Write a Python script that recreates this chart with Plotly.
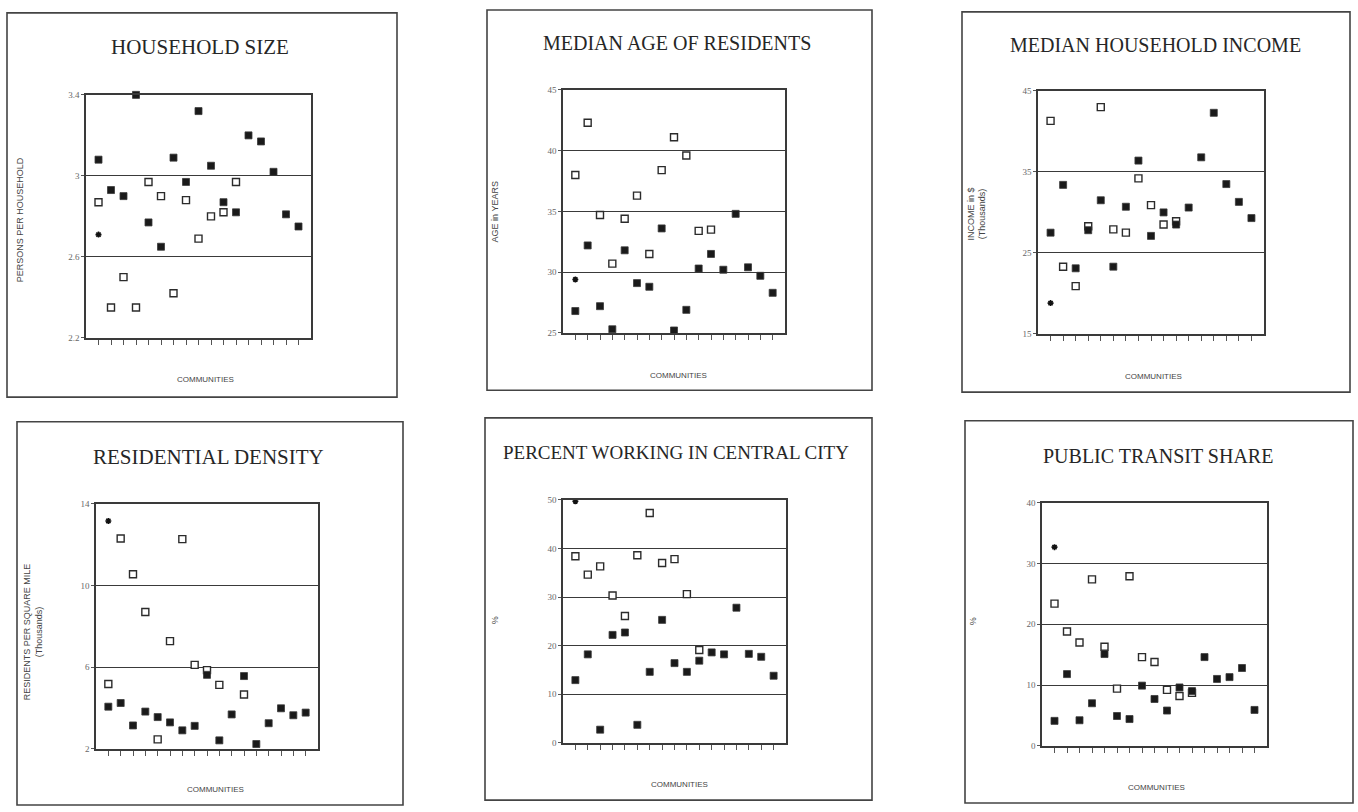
import plotly.graph_objects as go

# Community index on the horizontal axis (17 communities per panel)
communities = list(range(1, 18))

# --- Household size (persons per household) ---
household_filled = [3.08, 2.93, 2.90, 3.40, 2.77, 2.65, 3.09, 2.97, 3.32, 3.05,
                    2.87, 2.82, 3.20, 3.17, 3.02, 2.81, 2.75]
household_open = [2.87, 2.35, 2.50, 2.35, 2.97, 2.90, 2.42, 2.88, 2.69, 2.80,
                  2.82, 2.97, None, None, None, None, None]
household_city = 2.71

# --- Median age of residents (years) ---
age_filled = [26.8, 32.2, 27.2, 25.3, 31.8, 29.1, 28.8, 33.6, 25.2, 26.9,
              30.3, 31.5, 30.2, 34.8, 30.4, 29.7, 28.3]
age_open = [38.0, 42.3, 34.7, 30.7, 34.4, 36.3, 31.5, 38.4, 41.1, 39.6,
            33.4, 33.5, None, None, None, None, None]
age_city = 29.4

# --- Median household income ($ thousands) ---
income_filled = [27.5, 33.4, 23.1, 27.8, 31.5, 23.3, 30.7, 36.4, 27.1, 30.0,
                 28.5, 30.6, 36.8, 42.3, 33.5, 31.3, 29.3]
income_open = [41.3, 23.3, 20.9, 28.3, 43.0, 27.9, 27.5, 34.2, 30.9, 28.5,
               28.9, None, None, None, None, None, None]
income_city = 18.8

# --- Residential density (residents per sq. mile, thousands) ---
density_filled = [4.06, 4.24, 3.14, 3.82, 3.55, 3.29, 2.90, 3.12, 5.62, 2.41,
                  3.68, 5.56, 2.23, 3.25, 3.98, 3.64, 3.77]
density_open = [5.17, 12.30, 10.55, 8.70, 2.46, 7.27, 12.27, 6.11, 5.85, 5.13,
                None, 4.66, None, None, None, None, None]
density_city = 13.16

# --- Percent working in central city ---
working_filled = [12.9, 18.2, 2.7, 22.2, 22.7, 3.7, 14.6, 25.3, 16.4, 14.6,
                  16.9, 18.6, 18.2, 27.8, 18.3, 17.7, 13.8]
working_open = [38.4, 34.6, 36.3, 30.3, 26.1, 38.6, 47.3, 37.0, 37.8, 30.6,
                19.1, None, None, None, None, None, None]
working_city = 49.7

# --- Public transit share (%) ---
transit_filled = [4.1, 11.8, 4.2, 7.0, 15.1, 4.9, 4.4, 9.9, 7.7, 5.8,
                  9.6, 9.0, 14.6, 11.0, 11.3, 12.8, 5.9]
transit_open = [23.4, 18.8, 17.0, 27.4, 16.3, 9.4, 27.9, 14.6, 13.8, 9.2,
                8.2, 8.7, None, None, None, None, None]
transit_city = 32.7

# Titles and axis labels
panel_titles = ["HOUSEHOLD SIZE", "MEDIAN AGE OF RESIDENTS", "MEDIAN HOUSEHOLD INCOME",
                "RESIDENTIAL DENSITY", "PERCENT WORKING IN CENTRAL CITY", "PUBLIC TRANSIT SHARE"]
y_titles = ["PERSONS PER HOUSEHOLD", "AGE in YEARS", "INCOME in $<br>(Thousands)",
            "RESIDENTS PER SQUARE MILE<br>(Thousands)", "%", "%"]
x_title = "COMMUNITIES"

y_ticks = [[2.2, 2.6, 3.0, 3.4], [25, 30, 35, 40, 45], [15, 25, 35, 45],
           [2, 6, 10, 14], [0, 10, 20, 30, 40, 50], [0, 10, 20, 30, 40]]
y_tick_text = [["2.2", "2.6", "3", "3.4"], ["25", "30", "35", "40", "45"],
               ["15", "25", "35", "45"], ["2", "6", "10", "14"],
               ["0", "10", "20", "30", "40", "50"], ["0", "10", "20", "30", "40"]]

filled_series = [household_filled, age_filled, income_filled,
                 density_filled, working_filled, transit_filled]
open_series = [household_open, age_open, income_open,
               density_open, working_open, transit_open]
city_values = [household_city, age_city, income_city,
               density_city, working_city, transit_city]

# ---------------- layout geometry (pixels) ----------------
W, H = 1358, 812
plot_boxes = [(86, 91, 311, 337), (563, 86, 785, 332), (1038, 87, 1264, 333),
              (96, 505, 318, 753), (563, 501, 786, 747), (1042, 504, 1267, 750)]
frame_boxes = [(7, 8, 397, 397), (487, 5, 872, 390), (962, 7, 1350, 392),
               (17, 422, 403, 810), (485, 418, 872, 805), (965, 421, 1353, 808)]
title_pos = [(200, 43), (677, 38), (1155, 41), (208, 458), (676, 453), (1158, 457)]
title_size = [21, 20, 20, 21, 19, 20]
xtitle_pos = [(206, 379), (678, 375), (1153, 376), (215, 794), (679, 789), (1156, 792)]
ytitle_pos = [(20, 218), (495, 210), (977, 212), (33, 635), (495, 623), (973, 624)]


def px_x(x):
    return x / W


def px_y(y):
    return 1 - y / H


LINE = "#3a3a3a"
LABEL = "#666666"
SERIF = "Liberation Serif, Times New Roman, serif"
SANS = "Liberation Sans Narrow, Liberation Sans, Arial, sans-serif"

fig = go.Figure()
layout = dict(width=W, height=H, margin=dict(l=0, r=0, t=0, b=0),
              paper_bgcolor="white", plot_bgcolor="white", showlegend=False)
annotations = []
shapes = []

for i in range(6):
    k = "" if i == 0 else str(i + 1)
    xa, ya = "x" + k, "y" + k
    x0, y0, x1, y1 = plot_boxes[i]

    fig.add_trace(go.Scatter(
        x=communities, y=open_series[i], xaxis=xa, yaxis=ya, mode="markers",
        marker=dict(symbol="square", size=7, color="white",
                    line=dict(color="#2b2b2b", width=1.4)),
        cliponaxis=False, hoverinfo="skip"))
    fig.add_trace(go.Scatter(
        x=communities, y=filled_series[i], xaxis=xa, yaxis=ya, mode="markers",
        marker=dict(symbol="square", size=7, color="#1a1a1a",
                    line=dict(color="#3a3a3a", width=0.8)),
        cliponaxis=False, hoverinfo="skip"))
    fig.add_trace(go.Scatter(
        x=[communities[0]], y=[city_values[i]], xaxis=xa, yaxis=ya, mode="markers",
        marker=dict(symbol="asterisk-open", size=5, color="#111",
                    line=dict(color="#111", width=1.6)),
        cliponaxis=False, hoverinfo="skip"))

    ymin, ymax = y_ticks[i][0], y_ticks[i][-1]
    layout["xaxis" + k] = dict(
        domain=[px_x(x0), px_x(x1)], anchor=ya, range=[0, 18],
        tickvals=communities, ticks="outside", ticklen=5, tickwidth=1.2,
        tickcolor="#555", showticklabels=False, showline=True, mirror=True,
        linecolor=LINE, linewidth=1.6, showgrid=False, zeroline=False)
    layout["yaxis" + k] = dict(
        domain=[px_y(y1), px_y(y0)], anchor=xa, range=[ymin, ymax],
        tickvals=y_ticks[i], ticktext=y_tick_text[i], ticks="outside",
        ticklen=3, tickwidth=1, tickcolor="#555", showline=True, mirror=True,
        linecolor=LINE, linewidth=1.6, showgrid=True, gridcolor=LINE,
        gridwidth=1.3, zeroline=False,
        tickfont=dict(family=SERIF, size=9, color=LABEL))

    fx0, fy0, fx1, fy1 = frame_boxes[i]
    shapes.append(dict(type="rect", xref="paper", yref="paper",
                       x0=px_x(fx0), x1=px_x(fx1), y0=px_y(fy1), y1=px_y(fy0),
                       line=dict(color="#444", width=1.6)))

    tx, ty = title_pos[i]
    annotations.append(dict(text=panel_titles[i], x=px_x(tx), y=px_y(ty),
                            xref="paper", yref="paper", showarrow=False,
                            xanchor="center", yanchor="middle",
                            font=dict(family=SERIF, size=title_size[i], color="#262626")))
    cx, cy = xtitle_pos[i]
    annotations.append(dict(text=x_title, x=px_x(cx), y=px_y(cy),
                            xref="paper", yref="paper", showarrow=False,
                            xanchor="center", yanchor="middle",
                            font=dict(family=SANS, size=8, color="#444")))
    vx, vy = ytitle_pos[i]
    annotations.append(dict(text=y_titles[i], x=px_x(vx), y=px_y(vy),
                            xref="paper", yref="paper", showarrow=False,
                            xanchor="center", yanchor="middle", textangle=-90,
                            font=dict(family=SANS, size=9, color="#444")))

layout["annotations"] = annotations
layout["shapes"] = shapes
fig.update_layout(**layout)

fig.write_html("out.html")
